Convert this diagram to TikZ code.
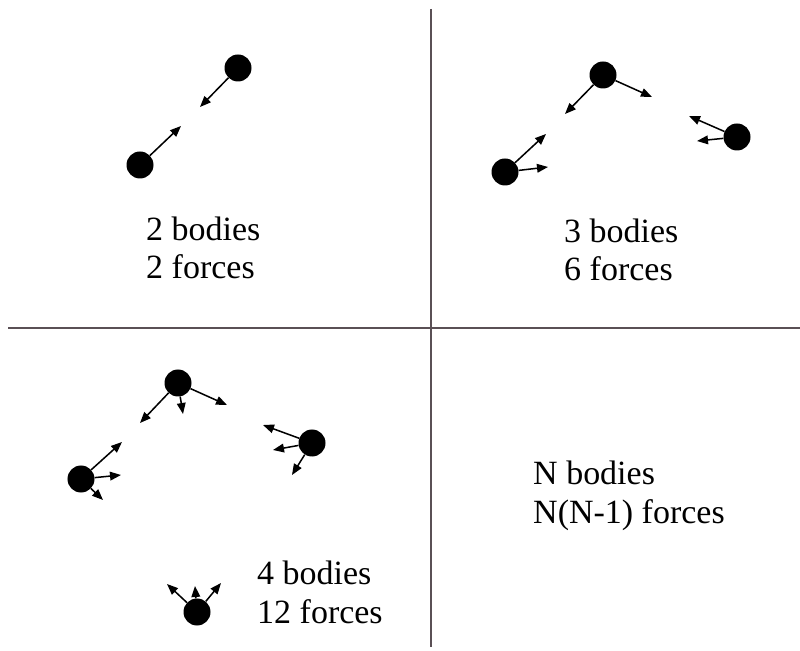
\documentclass[tikz,border=0pt]{standalone}
\usepackage{fontspec}
\setmainfont{Liberation Serif}
\usetikzlibrary{arrows.meta}
\definecolor{GridGray}{HTML}{5A5055}

\begin{document}
\begin{tikzpicture}[x=0.03cm,y=-0.03cm,
  body/.style={circle,fill=black,minimum size=8.1mm,inner sep=0pt},
  force/.style={-{Triangle[length=3.3mm,width=2.6mm]},line width=1.3pt},
  count/.style={align=left,anchor=base west,inner sep=0pt,font=\fontsize{29}{32.5}\selectfont}]
\useasboundingbox (0,0) rectangle (800,651);
% quadrant lines
\draw[GridGray,line width=1.3pt] (431,9) -- (431,647);
\draw[GridGray,line width=1.3pt] (8,328) -- (800,328);
% bodies
\foreach \n/\x/\y in {a/238/68,b/140/165,
    c/603/75,d/737/137,e/505/172,
    f/178/383,g/312/443,h/81/479,k/197/612}
  \node[body] (\n) at (\x,\y) {};
% forces
\foreach \n/\k/\tx/\ty in {a/1/200/107,b/1/181/126,
    c/1/565/114,c/2/652/97,d/1/689/116,d/2/697/141,e/1/546/134,e/2/548/167,
    f/1/140/423,f/2/183/414,f/3/227/405,g/1/263/425,g/2/273/450,g/3/292/475,
    h/1/122/442,h/2/121/475,h/3/103/500,k/1/167/584,k/2/195/586,k/3/221/583}
  {\coordinate (\n-\k) at (\tx,\ty);
   \draw[force] (\n) -- (\n-\k);}
% labels (base = last line)
\node[count] (two) at (146,279) {2 bodies\\2 forces};
\node[count] (three) at (564,281) {3 bodies\\6 forces};
\node[count] (four) at (257,623) {4 bodies\\12 forces};
\node[count] (many) at (533,523) {N bodies\\N(N-1) forces};
\end{tikzpicture}
\end{document}
